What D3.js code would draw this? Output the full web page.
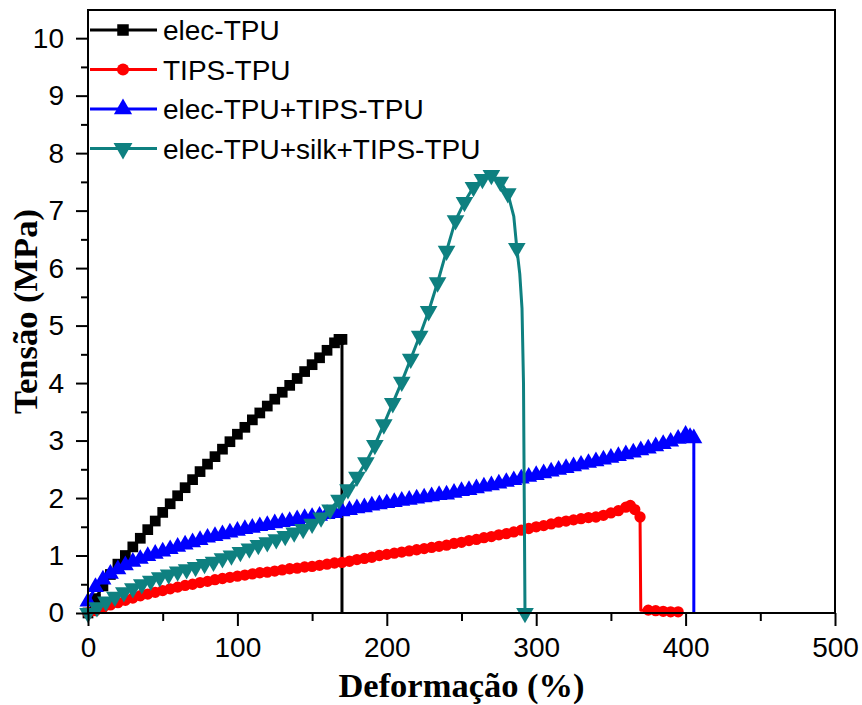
<!DOCTYPE html>
<html><head><meta charset="utf-8">
<script src="https://cdn.jsdelivr.net/npm/d3@7"></script>
<style>body{margin:0;background:#fff}svg{display:block}</style>
</head><body>
<svg id="chart" width="862" height="705"></svg>
<script>
// ---- data (strain %, stress MPa); third element 0 = no marker at that point ----
const seriesNames = ["elec-TPU", "TIPS-TPU", "elec-TPU+TIPS-TPU", "elec-TPU+silk+TIPS-TPU"];
const xTicks = [0, 100, 200, 300, 400, 500];
const yTicks = [0, 1, 2, 3, 4, 5, 6, 7, 8, 9, 10];
const xTitle = "Deformação (%)";
const yTitle = "Tensão (MPa)";

const elecTPU = [[0,0],[5,0.25],[10,0.47],[15,0.67],[20,0.85],[25,1.0],[30,1.15],[35,1.3],[40,1.45],[45,1.6],[50,1.75],[55,1.9],[60,2.04],[65,2.18],[70,2.32],[75,2.46],[80,2.59],[85,2.72],[90,2.85],[95,2.98],[100,3.11],[105,3.23],[110,3.36],[115,3.48],[120,3.6],[125,3.72],[130,3.84],[135,3.96],[140,4.08],[145,4.2],[150,4.32],[155,4.44],[160,4.57],[165,4.7],[168,4.76],[170,4.76],[170,0,0]];

const tipsTPU = [[0,0],[5,0.04],[10,0.09],[15,0.14],[20,0.18],[25,0.22],[30,0.26],[35,0.3],[40,0.33],[45,0.36],[50,0.39],[55,0.42],[60,0.45],[65,0.48],[70,0.5],[75,0.53],[80,0.55],[85,0.58],[90,0.6],[95,0.62],[100,0.64],[105,0.66],[110,0.68],[115,0.7],[120,0.71],[125,0.73],[130,0.75],[135,0.77],[140,0.78],[145,0.8],[150,0.81],[155,0.83],[160,0.85],[165,0.87],[170,0.88],[175,0.9],[180,0.93],[185,0.95],[190,0.97],[195,1.0],[200,1.02],[205,1.04],[210,1.06],[215,1.08],[220,1.1],[225,1.12],[230,1.14],[235,1.16],[240,1.18],[245,1.21],[250,1.23],[255,1.26],[260,1.28],[265,1.31],[270,1.33],[275,1.36],[280,1.38],[285,1.41],[290,1.44],[295,1.47],[300,1.5],[305,1.52],[310,1.55],[315,1.58],[320,1.6],[325,1.62],[330,1.64],[335,1.66],[340,1.67],[345,1.7],[350,1.74],[355,1.78],[360,1.84],[363,1.87],[366,1.8],[369.5,1.67],[370,0.05,0],[375,0.05],[380,0.04],[385,0.03],[390,0.02],[395,0.02],[398,0,0]];

const elecTipsTPU = [[0,0.2],[5,0.45],[10,0.58],[15,0.68],[20,0.76],[25,0.83],[30,0.89],[35,0.94],[40,0.99],[45,1.03],[50,1.07],[55,1.11],[60,1.15],[65,1.19],[70,1.23],[75,1.27],[80,1.31],[85,1.34],[90,1.37],[95,1.4],[100,1.43],[105,1.46],[110,1.48],[115,1.51],[120,1.53],[125,1.56],[130,1.58],[135,1.6],[140,1.63],[145,1.65],[150,1.67],[155,1.69],[160,1.72],[165,1.74],[170,1.77],[175,1.79],[180,1.82],[185,1.84],[190,1.87],[195,1.89],[200,1.91],[205,1.93],[210,1.95],[215,1.97],[220,1.99],[225,2.01],[230,2.03],[235,2.05],[240,2.06],[245,2.09],[250,2.12],[255,2.14],[260,2.17],[265,2.2],[270,2.22],[275,2.25],[280,2.28],[285,2.31],[290,2.34],[295,2.37],[300,2.4],[305,2.43],[310,2.46],[315,2.49],[320,2.52],[325,2.55],[330,2.58],[335,2.61],[340,2.64],[345,2.67],[350,2.7],[355,2.73],[360,2.76],[365,2.79],[370,2.83],[375,2.86],[380,2.9],[385,2.94],[390,2.98],[395,3.03],[400,3.1],[403,3.06],[405.5,3.04],[405.5,0,0]];

const elecSilkTipsTPU = [[0,0],[6,0.1],[12,0.2],[18,0.28],[24,0.36],[30,0.43],[36,0.5],[42,0.56],[48,0.62],[54,0.67],[60,0.72],[66,0.76],[72,0.8],[78,0.85],[84,0.89],[90,0.95],[96,1.0],[102,1.06],[108,1.12],[114,1.18],[120,1.23],[126,1.28],[132,1.34],[138,1.4],[144,1.46],[150,1.55],[156,1.66],[162,1.8],[168,1.97],[174,2.15],[180,2.37],[186,2.62],[192,2.92],[198,3.28],[204,3.65],[210,4.02],[216,4.42],[222,4.82],[228,5.25],[234,5.75],[240,6.3],[246,6.83],[252,7.15],[258,7.41],[264,7.55],[270,7.62],[276,7.5],[281,7.3],[285,6.9,0],[287,6.35],[289,5.9,0],[290.5,5.3,0],[291.5,4.0,0],[292,2.0,0],[292.5,0]];

const seriesData = [elecTPU, tipsTPU, elecTipsTPU, elecSilkTipsTPU];
const seriesColors = ["#000000", "#ff0000", "#0000ff", "#0e8080"];
const seriesSymbols = [d3.symbolSquare, d3.symbolCircle, d3.symbolTriangle, d3.symbolTriangle];
const symbolSizes = [115, 100, 125, 135];
const symbolRot = [0, 0, 0, 180];

// ---- layout ----
const svg = d3.select("#chart");
const m = {left: 88, right: 835, top: 10, bottom: 613};
const x = d3.scaleLinear().domain([0, 500]).range([m.left, m.right]);
const y = d3.scaleLinear().domain([0, 10.49]).range([m.bottom, m.top]);
const sans = "'Liberation Sans', Arial, sans-serif";
const serif = "'Liberation Serif', 'Times New Roman', serif";

svg.append("rect").attr("width", 862).attr("height", 705).attr("fill", "#fff");

// data
const line = d3.line().x(d => x(d[0])).y(d => y(d[1]));
const plot = svg.append("g");
seriesData.forEach((data, i) => {
  plot.append("path").datum(data).attr("d", line)
    .attr("fill", "none").attr("stroke", seriesColors[i]).attr("stroke-width", 3)
    .attr("stroke-linejoin", "round");
  const sym = d3.symbol().type(seriesSymbols[i]).size(symbolSizes[i]);
  plot.append("g").selectAll("path").data(data.filter(d => d[2] !== 0)).join("path")
    .attr("d", sym)
    .attr("transform", d => `translate(${x(d[0])},${y(d[1])}) rotate(${symbolRot[i]})`)
    .attr("fill", seriesColors[i]);
});

// frame
svg.append("rect").attr("x", m.left).attr("y", m.top)
  .attr("width", m.right - m.left).attr("height", m.bottom - m.top)
  .attr("fill", "none").attr("stroke", "#000").attr("stroke-width", 2);

// axes
const xAxis = svg.append("g").attr("transform", `translate(0,${m.bottom})`)
  .call(d3.axisBottom(x).tickValues(xTicks).tickSize(13).tickPadding(11).tickFormat(d3.format("d")));
const xMinor = svg.append("g").attr("transform", `translate(0,${m.bottom})`)
  .call(d3.axisBottom(x).tickValues(d3.range(50, 500, 100)).tickSize(8).tickFormat(""));
const yAxis = svg.append("g").attr("transform", `translate(${m.left},0)`)
  .call(d3.axisLeft(y).tickValues(yTicks).tickSize(12).tickPadding(12).tickFormat(d3.format("d")));
const yMinor = svg.append("g").attr("transform", `translate(${m.left},0)`)
  .call(d3.axisLeft(y).tickValues(d3.range(0.5, 10.5, 1)).tickSize(7).tickFormat(""));
[xAxis, xMinor, yAxis, yMinor].forEach(g => {
  g.select(".domain").remove();
  g.selectAll("line").attr("stroke", "#000").attr("stroke-width", 2);
  g.selectAll("text").attr("font-family", sans).attr("font-size", 28).attr("fill", "#000");
});

// axis titles
svg.append("text").attr("x", (m.left + m.right) / 2).attr("y", 697)
  .attr("text-anchor", "middle").attr("font-family", serif).attr("font-weight", "bold")
  .attr("font-size", 34.5).text(xTitle);
svg.append("text").attr("transform", `translate(37,${(m.top + m.bottom) / 2}) rotate(-90)`)
  .attr("text-anchor", "middle").attr("font-family", serif).attr("font-weight", "bold")
  .attr("font-size", 34.5).text(yTitle);

// legend
const lg = svg.append("g");
seriesNames.forEach((name, i) => {
  const yy = 30 + i * 39.5;
  lg.append("line").attr("x1", 90).attr("x2", 157).attr("y1", yy).attr("y2", yy)
    .attr("stroke", seriesColors[i]).attr("stroke-width", 3);
  lg.append("path").attr("d", d3.symbol().type(seriesSymbols[i]).size(symbolSizes[i] * 1.15)())
    .attr("transform", `translate(123,${yy}) rotate(${symbolRot[i]})`).attr("fill", seriesColors[i]);
  lg.append("text").attr("x", 163).attr("y", yy).attr("dy", "0.36em")
    .attr("font-family", sans).attr("font-size", 28).attr("fill", "#000").text(name);
});
</script>
</body></html>
